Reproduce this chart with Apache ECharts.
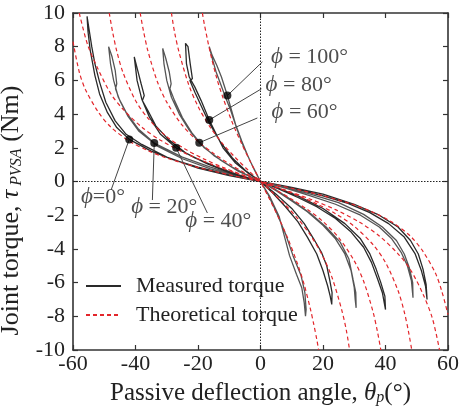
<!DOCTYPE html>
<html><head><meta charset="utf-8">
<script src="https://cdn.jsdelivr.net/npm/echarts@6/dist/echarts.min.js"></script>
<style>html,body{margin:0;padding:0;background:#fff}#c{width:460px;height:412px}</style>
</head><body><div id="c"></div>
<script>
// ---- axes ----
const xTicks = [-60, -40, -20, 0, 20, 40, 60];
const yTicks = [-10, -8, -6, -4, -2, 0, 2, 4, 6, 8, 10];

// ---- theoretical torque curves ----
const theoryPhi0 = [[-60,8.3],[-58,6.5],[-56,5.45],[-52,4.15],[-48,3.25],[-42,2.4],[-36,1.83],[-30,1.39],[-20,0.84],[-10,0.4],[0,0],[10,-0.4],[20,-0.84],[30,-1.39],[36,-1.83],[42,-2.4],[48,-3.25],[52,-4.15],[56,-5.45],[58,-6.5],[60,-7.9]];
const theoryPhi20 = [[-58,10],[-55.3,8.1],[-52,6.68],[-48,5.24],[-44,4.29],[-38,3.23],[-32,2.45],[-24,1.67],[-16,1.05],[-8,0.51],[0,0],[8,-0.51],[16,-1.05],[24,-1.67],[32,-2.45],[38,-3.23],[44,-4.29],[48,-5.24],[52,-6.68],[55,-8.12],[57.3,-10]];
const theoryPhi40 = [[-48.4,10],[-47.3,8.85],[-46,7.74],[-44,6.47],[-40,4.81],[-36,3.75],[-30,2.66],[-24,1.91],[-18,1.33],[-12,0.84],[-6,0.41],[0,0],[6,-0.41],[12,-0.84],[18,-1.33],[24,-1.91],[30,-2.66],[36,-3.75],[40,-4.81],[44,-6.47],[46,-7.74],[47.3,-8.85],[48.4,-10]];
const theoryPhi60 = [[-38.5,10],[-37.5,8.98],[-36,7.73],[-33,5.92],[-30,4.71],[-25,3.33],[-20,2.38],[-15,1.66],[-10,1.05],[-5,0.51],[0,0],[5,-0.51],[10,-1.05],[15,-1.66],[20,-2.38],[25,-3.33],[30,-4.71],[33,-5.92],[36,-7.73],[37.5,-8.98],[38.5,-10]];
const theoryPhi80 = [[-28.5,10],[-27.5,8.86],[-26,7.63],[-23,5.76],[-20,4.46],[-16,3.19],[-12,2.22],[-8,1.41],[-4,0.68],[0,0],[4,-0.68],[8,-1.41],[12,-2.22],[16,-3.19],[20,-4.46],[23,-5.76],[26,-7.63],[27.5,-8.86],[28.5,-10]];
const theoryPhi100 = [[-18.6,10],[-18,9.36],[-17,8.44],[-16,7.59],[-14,6.13],[-12,4.97],[-9,3.49],[-6,2.23],[-3,1.085],[0,0],[3,-1.085],[6,-2.23],[9,-3.49],[12,-4.97],[14,-6.13],[16,-7.59],[17,-8.44],[18,-9.36],[18.6,-10]];

// ---- measured torque loops ----
const measPhi0Left = [[0,0],[-10,0.4],[-20,0.85],[-28,1.3],[-35,1.8],[-42,2.5],[-46,3.2],[-49,4.1],[-51.5,5.2],[-53,6.3],[-54.5,7.8],[-55.2,8.9],[-55.5,9.8],[-55,9.2],[-54,8.0],[-53,7.0],[-51.5,5.9],[-49.5,4.7],[-46.5,3.6],[-43,2.8],[-38,2.2],[-30,1.45],[-20,0.8],[-10,0.35],[0,0]];
const measPhi20Left = [[0,0],[-8,0.4],[-16,0.85],[-25,1.45],[-34,2.28],[-39,3.1],[-43,4.1],[-45.5,5.0],[-47,6.0],[-48,7.0],[-48.6,8.0],[-47.5,7.4],[-46.5,6.6],[-46,5.8],[-46.4,5.5],[-45,4.8],[-42.5,3.9],[-39,3.0],[-33,2.1],[-25,1.35],[-16,0.75],[-8,0.35],[0,0]];
const measPhi40Left = [[0,0],[-7,0.4],[-14,0.85],[-21,1.4],[-27,2.0],[-32,2.8],[-35.5,3.8],[-38,4.9],[-39.5,6.0],[-40.4,7.4],[-39.3,6.6],[-38.2,5.8],[-37.2,5.1],[-37.8,4.8],[-36,4.2],[-33.5,3.3],[-29.5,2.5],[-24,1.7],[-17,1.05],[-9,0.45],[0,0]];
const measPhi60Left = [[0,0],[-5,0.45],[-10,0.95],[-15,1.55],[-19.6,2.3],[-23,3.1],[-26,4.0],[-28.5,5.0],[-30,6.0],[-30.9,7.0],[-31.3,7.9],[-30.3,7.3],[-29.2,6.5],[-28.6,5.8],[-29.0,5.5],[-27.5,4.8],[-25,3.8],[-22,2.9],[-18,2.0],[-13,1.3],[-7,0.6],[0,0]];
const measPhi80Left = [[0,0],[-4,0.5],[-8,1.1],[-12,2.0],[-16.4,3.65],[-19,4.8],[-21,5.6],[-22.8,6.2],[-23.7,7.0],[-24,8.2],[-23.2,8.0],[-22.5,7.0],[-21.8,6.1],[-22.6,6.0],[-21,5.3],[-19,4.5],[-16.5,3.5],[-13,2.4],[-9,1.4],[-4.5,0.6],[0,0]];
const measPhi100Left = [[0,0],[-2,0.7],[-4,1.5],[-6,2.4],[-8,3.4],[-10.6,5.1],[-12.5,6.2],[-14,6.9],[-15.5,7.5],[-16.4,8.0],[-15.3,7.2],[-14.2,6.5],[-12.8,5.8],[-11.2,5.0],[-9.5,4.2],[-7.5,3.1],[-5.5,2.1],[-3,1.1],[0,0]];
const measPhi0Right = [[0,0],[10,-0.4],[20,-0.85],[28,-1.3],[35,-1.85],[41,-2.5],[46,-3.3],[49.5,-4.3],[51.5,-5.3],[52.8,-6.2],[53.3,-7.0],[53,-6.1],[52,-5.2],[50.5,-4.3],[48,-3.5],[44,-2.7],[38,-2.0],[30,-1.35],[20,-0.75],[10,-0.35],[0,0]];
const measPhi20Right = [[0,0],[8,-0.4],[16,-0.85],[24,-1.35],[32,-2.0],[38,-2.7],[42,-3.4],[45,-4.2],[47,-5.0],[48.3,-5.9],[48.8,-6.9],[48.7,-6.0],[47.6,-5.1],[46,-4.3],[43.5,-3.5],[39,-2.7],[33,-1.95],[25,-1.25],[16,-0.75],[8,-0.35],[0,0]];
const measPhi40Right = [[0,0],[6,-0.45],[12,-0.95],[18,-1.5],[24,-2.2],[29,-3.0],[33,-3.9],[35.5,-4.8],[37.5,-5.8],[39,-6.6],[40,-7.6],[39.8,-6.8],[38.5,-6.0],[37,-5.2],[35,-4.3],[32,-3.4],[27,-2.5],[20,-1.6],[12,-0.85],[5,-0.35],[0,0]];
const measPhi60Right = [[0,0],[5,-0.55],[10,-1.15],[15,-1.8],[20,-2.6],[24,-3.4],[27,-4.3],[29,-5.3],[30,-6.3],[30.3,-7.0],[30.6,-7.5],[30.5,-6.6],[29.6,-5.8],[28.3,-4.6],[25.5,-3.6],[21,-2.7],[16,-1.9],[10,-1.1],[5,-0.5],[0,0]];
const measPhi80Right = [[0,0],[4,-0.7],[8,-1.5],[12,-2.4],[15,-3.3],[18,-4.3],[20,-5.3],[21.5,-6.2],[22.3,-6.8],[22.8,-7.3],[22.9,-6.6],[22.2,-5.9],[21.2,-5.0],[19.5,-4.2],[17,-3.4],[14,-2.5],[10,-1.6],[5,-0.75],[0,0]];
const measPhi100Right = [[0,0],[3,-0.9],[6,-2.1],[9.3,-4.4],[11.5,-5.5],[13.2,-6.3],[14,-7.2],[14.4,-8.0],[14.6,-7.6],[14.2,-6.6],[13,-5.6],[10.4,-4.4],[8,-3.1],[5,-1.8],[2.5,-0.8],[0,0]];

// ---- annotations ----
const phiDots = [[-42,2.5],[-34,2.28],[-27,2.0],[-19.6,2.3],[-16.4,3.65],[-10.6,5.1]];
const phiLabelText = ['=0°', ' = 20°', ' = 40°', ' = 60°', ' = 80°', ' = 100°'];
const phiLeaderEnd = [[-47.8,-0.5],[-34.6,-1.1],[-17,-1.87],[-1,3.77],[0.3,5.5],[0.6,7.1]];
const phiLabelPos = [[-50.4,-0.92],[-30.8,-1.51],[-13.5,-2.34],[14.1,4.12],[12.2,5.73],[15.7,7.39]];

const FONT = 'Liberation Serif';
const theory = [theoryPhi0, theoryPhi20, theoryPhi40, theoryPhi60, theoryPhi80, theoryPhi100];
const measured = [measPhi0Left, measPhi20Left, measPhi40Left, measPhi60Left, measPhi80Left, measPhi100Left,
                  measPhi0Right, measPhi20Right, measPhi40Right, measPhi60Right, measPhi80Right, measPhi100Right];

const series = [];
measured.forEach((d, i) => series.push({
  name: 'Measured torque', type: 'line', data: d, symbol: 'none', silent: true,
  lineStyle: { color: i % 2 ? '#555' : '#2a2a2a', width: 1.3 }, itemStyle: { color: '#333' }, z: 3
}));
theory.forEach((d) => series.push({
  name: 'Theoretical torque', type: 'line', data: d, symbol: 'none', smooth: 0.3, silent: true,
  lineStyle: { color: '#e3262b', width: 1.2, type: [4, 3] }, itemStyle: { color: '#e3262b' }, z: 4
}));
// zero reference lines
series.push({
  type: 'line', data: [], silent: true,
  markLine: { symbol: 'none', silent: true, label: { show: false },
    lineStyle: { color: '#222', type: [1.5, 1.5], width: 1 },
    data: [{ xAxis: 0 }, { yAxis: 0 }] }, z: 2
});
// leader lines
phiDots.forEach((p, i) => series.push({
  type: 'line', data: [p, phiLeaderEnd[i]], symbol: 'none', silent: true,
  lineStyle: { color: '#444', width: 1 }, z: 5
}));
// dots
series.push({ type: 'scatter', data: phiDots, symbol: 'circle', symbolSize: 8,
  itemStyle: { color: '#000' }, silent: true, z: 6 });
// labels
series.push({ type: 'scatter', symbolSize: 0, silent: true, z: 7,
  data: phiLabelPos.map((p, i) => ({ value: p, txt: phiLabelText[i] })),
  label: { show: true, position: 'inside', align: 'center', verticalAlign: 'middle',
    formatter: (p) => '{i|ϕ}{n|' + p.data.txt + '}',
    rich: { i: { fontFamily: FONT, fontSize: 23, fontStyle: 'italic', color: '#222' },
            n: { fontFamily: FONT, fontSize: 22, color: '#222' } } } });

const axisLine = { show: true, onZero: false, lineStyle: { color: '#333', width: 1.6 } };
const tick = { show: true, inside: true, length: 5, lineStyle: { color: '#333', width: 1.2 } };
const chart = echarts.init(document.getElementById('c'));
chart.setOption({
  animation: false,
  backgroundColor: '#fff',
  textStyle: { fontFamily: FONT },
  grid: { left: 73, right: 12, top: 13, bottom: 62, containLabel: false, outerBoundsMode: 'none' },
  legend: {
    orient: 'vertical', left: 80, top: 270, itemWidth: 35, itemHeight: 14, itemGap: 7,
    data: ['Measured torque', 'Theoretical torque'],
    itemStyle: { opacity: 0 },
    textStyle: { fontFamily: FONT, fontSize: 22, color: '#222', padding: [0, 0, 0, 10] }
  },
  xAxis: [{
    type: 'value', min: xTicks[0], max: xTicks[xTicks.length - 1], interval: xTicks[1] - xTicks[0],
    axisLine, axisTick: tick, splitLine: { show: false },
    axisLabel: { fontFamily: FONT, fontSize: 22, color: '#222', margin: 3 },
    name: '{n|Passive deflection angle, }{i|θ}{s|p}{n|(°)}', nameLocation: 'middle', nameGap: 30,
    nameTextStyle: { rich: {
      n: { fontFamily: FONT, fontSize: 25, color: '#222' },
      i: { fontFamily: FONT, fontSize: 25, fontStyle: 'italic', color: '#222' },
      s: { fontFamily: FONT, fontSize: 16, fontStyle: 'italic', color: '#222', padding: [10, 0, 0, 0] } } }
  }, {
    type: 'value', position: 'top', min: xTicks[0], max: xTicks[xTicks.length - 1], interval: xTicks[1] - xTicks[0],
    axisLine, axisTick: tick, axisLabel: { show: false }, splitLine: { show: false }
  }],
  yAxis: [{
    type: 'value', min: yTicks[0], max: yTicks[yTicks.length - 1], interval: yTicks[1] - yTicks[0],
    axisLine, axisTick: tick, splitLine: { show: false },
    axisLabel: { fontFamily: FONT, fontSize: 22, color: '#222', margin: 8 },
    name: '{n|Joint torque, }{i|τ}{s| PVSA}{n| (Nm)}', nameLocation: 'middle', nameGap: 40, nameRotate: 90,
    nameTextStyle: { padding: [0, 58, 0, 0], rich: {
      n: { fontFamily: FONT, fontSize: 26, color: '#222' },
      i: { fontFamily: FONT, fontSize: 26, fontStyle: 'italic', color: '#222' },
      s: { fontFamily: FONT, fontSize: 16, fontStyle: 'italic', color: '#222', padding: [11, 0, 0, 0] } } }
  }, {
    type: 'value', position: 'right', min: yTicks[0], max: yTicks[yTicks.length - 1], interval: yTicks[1] - yTicks[0],
    axisLine, axisTick: tick, axisLabel: { show: false }, splitLine: { show: false }
  }],
  series
});
</script></body></html>
